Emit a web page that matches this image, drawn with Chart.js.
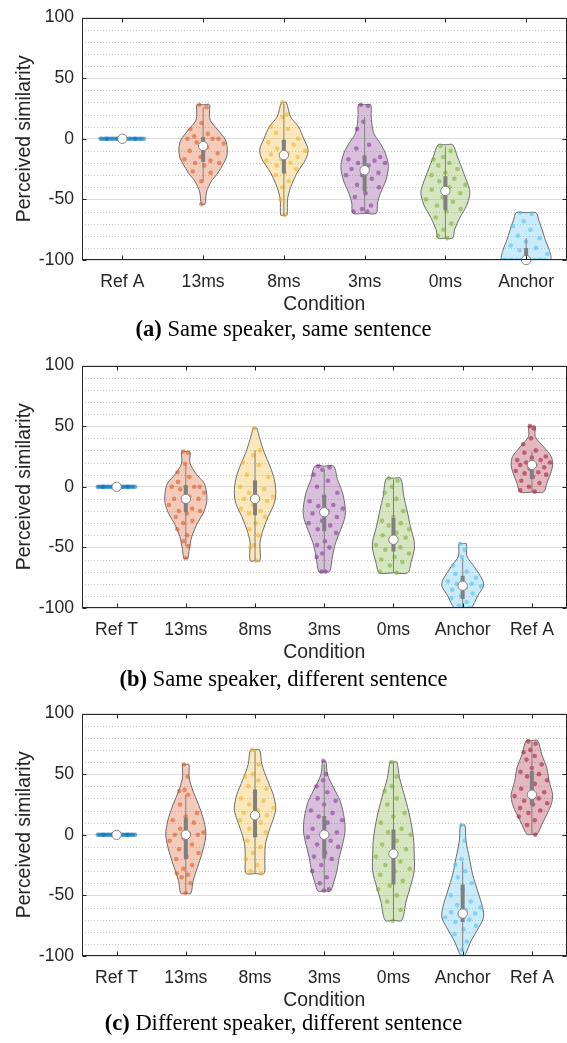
<!DOCTYPE html>
<html>
<head>
<meta charset="utf-8">
<script src="https://cdn.jsdelivr.net/npm/chart.js@4.4.1/dist/chart.umd.min.js"></script>
<style>
  body { margin: 0; background: #fff; width: 567px; height: 1043px; position: relative; overflow: hidden; }
  .panel { position: absolute; left: 0; width: 567px; height: 348px; }
  .cap { position: absolute; left: 0; width: 567px; text-align: center; color: #000;
         font-family: 'Liberation Serif', 'Times New Roman', serif; font-size: 22.5px; line-height: 26px; }
</style>
</head>
<body>
<div class="panel" style="top:0px"><canvas id="violinA" width="567" height="348"></canvas></div>
<div class="panel" style="top:348px"><canvas id="violinB" width="567" height="348"></canvas></div>
<div class="panel" style="top:696px"><canvas id="violinC" width="567" height="348"></canvas></div>
<div class="cap" style="top:316px"><b>(a)</b> Same speaker, same sentence</div>
<div class="cap" style="top:666px"><b>(b)</b> Same speaker, different sentence</div>
<div class="cap" style="top:1010px"><b>(c)</b> Different speaker, different sentence</div>

<script>
// ---- data ----
const catsA = ['Ref A', '13ms', '8ms', '3ms', '0ms', 'Anchor'];
const catsB = ['Ref T', '13ms', '8ms', '3ms', '0ms', 'Anchor', 'Ref A'];
const catsC = ['Ref T', '13ms', '8ms', '3ms', '0ms', 'Anchor', 'Ref A'];
const yTicks = [-100, -50, 0, 50, 100];

// individual ratings per condition
const ptsA = [
  [0, 0, 0, 0, 0, 0, 0, 0, 0, 0, 0, 0, 0, 0, 0, 0, 0, 0, 0, 0, 0, 0, 0, 0],
  [28, 26, 13, 8, 4, 2, 0, 0, 0, 0, -3, -4, -7, -10, -12, -15, -17, -18, -20, -20, -22, -27, -28, -35, -54],
  [30, 20, 18, 10, 8, 5, 0, -2, -3, -5, -8, -10, -12, -13, -15, -17, -18, -20, -22, -25, -28, -30, -35, -40, -50, -63],
  [28, 27, 14, 8, -5, -8, -15, -15, -17, -18, -20, -20, -22, -25, -28, -30, -30, -33, -38, -40, -45, -48, -55, -58, -60, -60],
  [-6, -10, -15, -17, -20, -22, -25, -28, -30, -33, -35, -38, -40, -42, -45, -48, -50, -52, -55, -58, -60, -65, -70, -75, -80, -82],
  [-61, -62, -68, -72, -75, -80, -82, -85, -88, -90, -92, -95, -100, -100, -100, -100, -100, -100, -100, -100, -100, -100, -100, -100, -100]
];
const ptsB = [
  [0, 0, 0, 0, 0, 0, 0, 0, 0, 0, 0, 0, 0, 0, 0, 0, 0, 0, 0, 0, 0, 0, 0, 0],
  [29, 28, 19, 12, 8, 4, 0, 0, 0, 0, -2, -5, -8, -10, -10, -12, -15, -18, -20, -20, -22, -25, -28, -30, -35, -40, -45, -49, -59],
  [48, 30, 26, 20, 18, 10, 8, 4, 0, -2, -5, -8, -10, -10, -12, -15, -18, -20, -22, -25, -30, -35, -40, -48, -50, -61],
  [17, 16, 14, 10, 5, 0, -5, -8, -12, -15, -16, -18, -20, -22, -25, -28, -30, -32, -35, -38, -45, -48, -50, -55, -58, -70, -70],
  [7, 5, 0, -5, -10, -15, -20, -25, -28, -30, -32, -35, -38, -40, -42, -45, -48, -50, -52, -55, -58, -60, -62, -65, -70, -71],
  [-47, -52, -58, -65, -70, -72, -75, -77, -78, -80, -80, -82, -83, -85, -88, -90, -92, -95, -98, -100, -100],
  [50, 48, 40, 35, 30, 28, 25, 24, 22, 22, 20, 20, 18, 18, 16, 15, 13, 12, 11, 10, 8, 5, 3, 0, -3, -4]
];
const ptsC = [
  [0, 0, 0, 0, 0, 0, 0, 0, 0, 0, 0, 0, 0, 0, 0, 0, 0, 0, 0, 0, 0, 0, 0, 0],
  [58, 48, 37, 36, 33, 25, 18, 15, 12, 10, 5, 2, 1, 0, 0, -3, -5, -8, -12, -15, -18, -20, -25, -28, -32, -33, -35, -40, -48],
  [70, 58, 50, 48, 45, 40, 38, 35, 30, 28, 25, 22, 20, 18, 16, 15, 12, 10, 5, 2, 0, -5, -10, -15, -20, -25, -30, -32],
  [61, 50, 45, 40, 35, 30, 28, 25, 20, 18, 15, 12, 10, 5, 2, 0, -2, -5, -8, -10, -15, -18, -20, -25, -30, -35, -40, -45, -46],
  [60, 48, 40, 36, 30, 25, 18, 15, 10, 5, 2, 0, -5, -8, -12, -15, -18, -22, -25, -28, -30, -33, -38, -42, -45, -50, -55, -62, -71],
  [8, -5, -20, -25, -30, -35, -40, -45, -50, -55, -58, -60, -62, -64, -65, -67, -68, -70, -72, -75, -78, -82, -88, -95, -100],
  [77, 75, 70, 68, 65, 62, 58, 55, 52, 50, 48, 45, 42, 38, 35, 33, 32, 30, 28, 26, 25, 22, 20, 18, 15, 12, 8, 0]
];

// violin outlines: [rating, relative density] from bottom to top
const shapeA = [
  null,
  [[-54, 0.08], [-44, 0.14], [-35, 0.34], [-29, 0.58], [-20, 0.85], [-15, 0.97], [-8, 1.0], [-1, 0.92], [7, 0.62], [15, 0.3], [22, 0.26], [28, 0.26]],
  [[-63, 0.13], [-50, 0.15], [-40, 0.28], [-28, 0.55], [-17, 0.9], [-9, 1.0], [0, 0.82], [10, 0.6], [18, 0.28], [30, 0.1]],
  [[-61.5, 0.48], [-53, 0.53], [-45, 0.65], [-34, 0.88], [-23, 0.98], [-12, 0.86], [-4, 0.65], [4, 0.39], [12, 0.3], [20, 0.27], [28, 0.25]],
  [[-82, 0.3], [-75, 0.38], [-65, 0.6], [-55, 0.88], [-47, 1.0], [-42, 1.0], [-28, 0.75], [-15, 0.5], [-5, 0.3]],
  [[-100, 1.0], [-92, 0.96], [-85, 0.82], [-75, 0.66], [-67, 0.52], [-61, 0.41]]
];
const shapeB = [
  null,
  [[-59, 0.1], [-52, 0.16], [-41, 0.29], [-30, 0.56], [-22, 0.83], [-13.5, 1.0], [-5, 1.0], [3, 0.88], [11, 0.48], [19.5, 0.2], [29, 0.2]],
  [[-61, 0.24], [-46, 0.24], [-35, 0.4], [-24.5, 0.64], [-13.5, 0.93], [-5, 1.0], [6, 0.93], [17, 0.72], [28, 0.45], [39, 0.24], [48.5, 0.08]],
  [[-70, 0.26], [-57, 0.4], [-46, 0.55], [-35, 0.8], [-24.5, 1.0], [-16, 1.0], [-5, 0.88], [6, 0.64], [17, 0.45]],
  [[-71, 0.68], [-62, 0.85], [-52, 1.0], [-45, 1.0], [-33, 0.82], [-20, 0.66], [-8, 0.5], [7, 0.34]],
  [[-100, 0.4], [-90, 0.72], [-82, 1.0], [-77, 0.96], [-66, 0.56], [-57, 0.2], [-47, 0.18]],
  [[-4.4, 0.56], [3, 0.72], [11, 0.9], [18, 1.0], [25, 0.93], [33, 0.56], [41.5, 0.16], [50, 0.16]]
];
const shapeC = [
  null,
  [[-48.4, 0.24], [-38, 0.35], [-27, 0.56], [-16, 0.77], [-5, 0.93], [3, 0.96], [14, 0.83], [25, 0.61], [36, 0.35], [47, 0.16], [58, 0.15]],
  [[-32, 0.43], [-20, 0.47], [-8, 0.5], [3, 0.67], [14, 0.9], [22, 1.0], [33, 0.88], [45, 0.6], [58, 0.33], [70, 0.22]],
  [[-46.4, 0.3], [-39.6, 0.45], [-30, 0.61], [-19, 0.72], [-8, 0.88], [3, 1.0], [14, 0.96], [27.7, 0.77], [38.7, 0.45], [49.7, 0.16], [60.7, 0.08]],
  [[-70.6, 0.4], [-54.7, 0.61], [-43.7, 0.8], [-30, 1.0], [-16, 1.0], [-2.5, 0.96], [14, 0.8], [30.5, 0.56], [47, 0.29], [60, 0.16]],
  [[-100, 0.08], [-96, 0.2], [-87.6, 0.4], [-76.6, 0.77], [-68.4, 1.0], [-60, 0.96], [-46.4, 0.72], [-32.7, 0.48], [-19, 0.32], [-5, 0.16], [8, 0.11]],
  [[0.3, 0.24], [8.5, 0.48], [16.8, 0.72], [25, 0.93], [33, 1.0], [44, 0.83], [55, 0.72], [66, 0.48], [77.7, 0.27]]
];

// medians, boxes (q1..q3) and whiskers
const medA = [0, -6, -13.5, -26, -43, -100];
const q1A = [null, -19, -28.5, -43.5, -59, -100];
const q3A = [null, 1, -1, -15.5, -31, -90];
const loA = [null, -35, -63, -60, -82, -100];
const hiA = [null, 26, 29, 18, -6.5, -82];

const medB = [0, -10, -10, -21, -43.7, -81.6, 18];
const q1B = [null, -21, -23.6, -36.8, -53.3, -92.6, 6.3];
const q3B = [null, 1, 5.2, -7, -25.8, -73.4, 21];
const loB = [null, -49, -61, -70, -71, -100, -3.8];
const hiB = [null, 18, 30, 14, 6, -59, 29];

const medC = [0, 0, 16, 0, -15.7, -65, 33];
const q1C = [null, -20, -2, -19.5, -41, -72, 24.5];
const q3C = [null, 14, 37.4, 15.4, 4.4, -41, 52.5];
const loC = [null, -48, -32, -46, -71, -96, 0];
const hiC = [null, 33, 69, 58, 60, -22, 77];

// ---- style ----
const PALETTE = [[0, 114, 189], [217, 83, 25], [237, 177, 32], [126, 47, 142], [119, 172, 48], [77, 190, 238], [162, 20, 47]];
const VW = 0.3;                 // max half width of a violin (category units)
const GREY = 'rgb(128,128,128)';
const EDGE = 'rgb(108,108,108)';
const AXIS = '#262626';
const FONT = "'Liberation Sans', Arial, Helvetica, sans-serif";

Chart.defaults.font.family = FONT;
Chart.defaults.color = AXIS;

function rgba(c, a) { return 'rgba(' + c.join(',') + ',' + a + ')'; }

// linear read of the outline at a rating (used to keep jitter inside the violin)
function densityAt(shape, y) {
  if (!shape) return 1;
  if (y <= shape[0][0]) return shape[0][1];
  for (let k = 1; k < shape.length; k++) {
    if (y <= shape[k][0]) {
      const a = shape[k - 1], b = shape[k];
      return a[1] + (b[1] - a[1]) * (y - a[0]) / (b[0] - a[0]);
    }
  }
  return shape[shape.length - 1][1];
}

// spread of the dots across the violin (deterministic)
function jitter(j) { return ((j * 0.6180339 + 0.17) % 1) * 2 - 1; }

function buildDatasets(cats, shapes, pts, med, q1, q3, lo, hi) {
  const ds = [];
  const whisk = [], box = [], mids = [];
  cats.forEach(function (name, i) {
    const c = i + 1;
    const col = PALETTE[i];
    const shape = shapes[i];
    if (shape) {
      const first = shape[0], last = shape[shape.length - 1];
      const poly = [{ x: c, y: first[0] }];
      shape.forEach(function (p) { poly.push({ x: c + VW * p[1], y: p[0] }); });
      poly.push({ x: c, y: last[0] });
      shape.slice().reverse().forEach(function (p) { poly.push({ x: c - VW * p[1], y: p[0] }); });
      poly.push({ x: c, y: first[0] });
      ds.push({
        type: 'line', data: poly, fill: 'shape',
        backgroundColor: rgba(col, 0.3), borderColor: EDGE, borderWidth: 1,
        pointRadius: 0, tension: 0.3, order: 5
      });
    }
    ds.push({
      type: 'scatter',
      data: pts[i].map(function (v, j) {
        return { x: c + jitter(j) * VW * 0.95 * densityAt(shape, v), y: v };
      }),
      backgroundColor: rgba(col, 0.55), borderWidth: 0, pointRadius: 2.3, order: 4
    });
    if (lo[i] !== null) {
      whisk.push({ x: c, y: lo[i] }, { x: c, y: hi[i] }, { x: c, y: null });
      box.push({ x: c, y: q1[i] }, { x: c, y: q3[i] }, { x: c, y: null });
    }
    mids.push({ x: c, y: med[i] });
  });
  ds.push({ type: 'line', data: whisk, borderColor: GREY, borderWidth: 1, pointRadius: 0, spanGaps: false, order: 3 });
  ds.push({ type: 'line', data: box, borderColor: GREY, borderWidth: 4, borderCapStyle: 'butt', pointRadius: 0, spanGaps: false, clip: false, order: 2 });
  ds.push({ type: 'scatter', data: mids, backgroundColor: '#fff', borderColor: GREY, borderWidth: 1, pointRadius: 4.7, clip: false, order: 1 });
  return ds;
}

// MATLAB-like frame: dotted minor grid, box, inward ticks
const framePlugin = {
  id: 'frame',
  beforeDatasetsDraw: function (chart) {
    const ctx = chart.ctx, a = chart.chartArea, y = chart.scales.y;
    ctx.save();
    ctx.strokeStyle = 'rgba(0,0,0,0.22)';
    ctx.lineWidth = 1;
    ctx.setLineDash([1, 2]);
    for (let v = -90; v < 100; v += 10) {
      if (v % 50 === 0) continue;
      const py = Math.round(y.getPixelForValue(v)) + 0.5;
      ctx.beginPath(); ctx.moveTo(a.left, py); ctx.lineTo(a.right, py); ctx.stroke();
    }
    ctx.restore();
  },
  afterDatasetsDraw: function (chart) {
    const ctx = chart.ctx, a = chart.chartArea, x = chart.scales.x, y = chart.scales.y;
    const L = Math.round(a.left) + 0.5, R = Math.round(a.right) - 0.5;
    const T = Math.round(a.top) + 0.5, B = Math.round(a.bottom) - 0.5;
    const tl = 4;
    ctx.save();
    ctx.strokeStyle = AXIS;
    ctx.lineWidth = 1;
    ctx.strokeRect(L, T, R - L, B - T);
    ctx.beginPath();
    x.ticks.forEach(function (t) {
      const px = Math.round(x.getPixelForValue(t.value)) + 0.5;
      ctx.moveTo(px, B); ctx.lineTo(px, B - tl);
      ctx.moveTo(px, T); ctx.lineTo(px, T + tl);
    });
    yTicks.forEach(function (v) {
      const py = Math.round(y.getPixelForValue(v)) + 0.5;
      ctx.moveTo(L, py); ctx.lineTo(L + tl, py);
      ctx.moveTo(R, py); ctx.lineTo(R - tl, py);
    });
    ctx.stroke();
    ctx.restore();
  }
};

function makePanel(id, cats, shapes, pts, med, q1, q3, lo, hi) {
  return new Chart(document.getElementById(id), {
    type: 'scatter',
    data: { datasets: buildDatasets(cats, shapes, pts, med, q1, q3, lo, hi) },
    options: {
      responsive: false,
      animation: false,
      devicePixelRatio: 1,
      events: [],
      layout: { autoPadding: false, padding: { top: 17.5, right: 0.5, bottom: 32, left: 0 } },
      plugins: { legend: { display: false }, tooltip: { enabled: false } },
      scales: {
        x: {
          type: 'linear', min: 0.5, max: cats.length + 0.5,
          afterBuildTicks: function (s) { s.ticks = cats.map(function (_, i) { return { value: i + 1 }; }); },
          afterFit: function (s) { s.height = 56; s.paddingLeft = 0; s.paddingRight = 0; },
          grid: { display: false },
          border: { display: false },
          ticks: {
            autoSkip: false, maxRotation: 0, padding: 3.3,
            font: { size: 17.6 }, color: AXIS,
            callback: function (v) { return cats[v - 1]; }
          },
          title: { display: true, text: 'Condition', font: { size: 19.4 }, color: AXIS, padding: { top: 0, bottom: 0 } }
        },
        y: {
          min: -100, max: 100,
          afterBuildTicks: function (s) { s.ticks = yTicks.map(function (v) { return { value: v }; }); },
          afterFit: function (s) { s.width = 82; s.paddingTop = 0; s.paddingBottom = 0; },
          grid: { color: '#dedede', drawTicks: false },
          border: { display: false },
          ticks: { padding: 8, font: { size: 17.6 }, color: AXIS },
          title: { display: true, text: 'Perceived similarity', font: { size: 19.4 }, color: AXIS, padding: { top: 13.4, bottom: 0 } }
        }
      }
    },
    plugins: [framePlugin]
  });
}

makePanel('violinA', catsA, shapeA, ptsA, medA, q1A, q3A, loA, hiA);
makePanel('violinB', catsB, shapeB, ptsB, medB, q1B, q3B, loB, hiB);
makePanel('violinC', catsC, shapeC, ptsC, medC, q1C, q3C, loC, hiC);
</script>
</body>
</html>
